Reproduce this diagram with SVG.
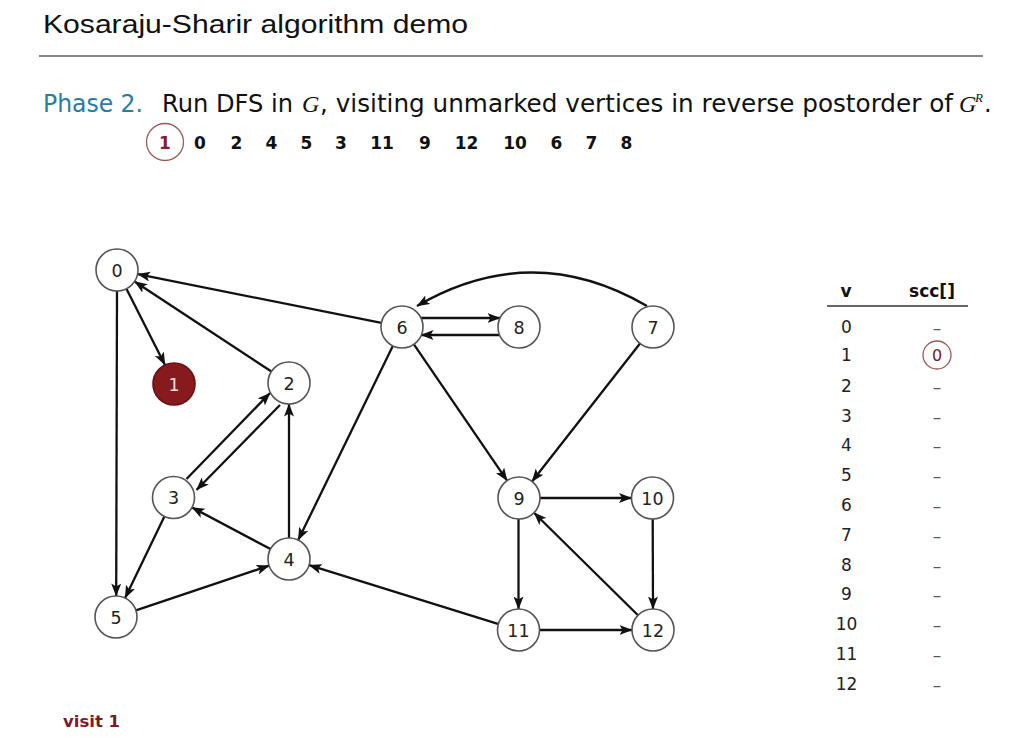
<svg xmlns="http://www.w3.org/2000/svg" width="1011" height="738" viewBox="0 0 1011 738">
<defs>
<marker id="ah" markerUnits="userSpaceOnUse" markerWidth="14" markerHeight="11" refX="12.5" refY="5" orient="auto">
<path d="M0,0 L13,5 L0,10 L3,5 z" fill="#111"/>
</marker>
<style>
.e{stroke:#111;stroke-width:2.3;fill:none;marker-end:url(#ah)}
.n circle{fill:#fff;stroke:#555;stroke-width:1.6}
.n text{font-family:"DejaVu Sans",sans-serif;font-size:17.5px;fill:#222;text-anchor:middle}
.t{font-family:"DejaVu Sans",sans-serif;fill:#111}
.ord{font-family:"DejaVu Sans",sans-serif;font-weight:bold;font-size:17px;fill:#111;text-anchor:middle}
.tv{font-family:"DejaVu Sans",sans-serif;font-size:17px;fill:#222;text-anchor:middle}
.td{font-family:"DejaVu Sans",sans-serif;font-size:17px;fill:#555;text-anchor:middle}
</style>
</defs>
<rect width="1011" height="738" fill="#fff"/>

<g id="header">
<text x="43" y="33" font-family="Liberation Sans, sans-serif" font-size="26" fill="#111" textLength="425" lengthAdjust="spacingAndGlyphs">Kosaraju-Sharir algorithm demo</text>
<line x1="39" y1="56" x2="983" y2="56" stroke="#888" stroke-width="2"/>
<text x="43" y="112" class="t" font-size="24" style="fill:#2a7ca0" textLength="100" lengthAdjust="spacingAndGlyphs">Phase 2.</text>
<text x="162" y="112" class="t" font-size="24" textLength="131" lengthAdjust="spacingAndGlyphs">Run DFS in</text>
<text x="302" y="112" font-family="Liberation Serif, serif" font-style="italic" font-size="24" fill="#111">G</text>
<text x="320" y="112" class="t" font-size="24" textLength="633" lengthAdjust="spacingAndGlyphs">, visiting unmarked vertices in reverse postorder of</text>
<text x="959" y="112" font-family="Liberation Serif, serif" font-style="italic" font-size="24" fill="#111">G</text>
<text x="975" y="102" font-family="Liberation Serif, serif" font-style="italic" font-size="13" fill="#111">R</text>
<text x="984" y="112" class="t" font-size="24">.</text>
</g>

<g id="order">
<circle cx="165" cy="142" r="18.5" fill="none" stroke="#9a5a5a" stroke-width="1.3"/>
<text x="165" y="149" class="ord" style="fill:#8b1a2b">1</text>
<text x="200" y="149" class="ord">0</text>
<text x="236.5" y="149" class="ord">2</text>
<text x="271.5" y="149" class="ord">4</text>
<text x="306.5" y="149" class="ord">5</text>
<text x="341" y="149" class="ord">3</text>
<text x="382" y="149" class="ord">11</text>
<text x="425" y="149" class="ord">9</text>
<text x="466.5" y="149" class="ord">12</text>
<text x="515" y="149" class="ord">10</text>
<text x="556.5" y="149" class="ord">6</text>
<text x="591.5" y="149" class="ord">7</text>
<text x="626.5" y="149" class="ord">8</text>
</g>

<g id="edges">
<line class="e" x1="126.4" y1="288.8" x2="165" y2="365"/>
<line class="e" x1="117" y1="291" x2="116.2" y2="596"/>
<line class="e" x1="271.4" y1="371.5" x2="134.6" y2="281.5"/>
<line class="e" x1="381.4" y1="322.9" x2="137.6" y2="274.1"/>
<line class="e" x1="186.5" y1="479" x2="270" y2="393"/>
<line class="e" x1="280" y1="405" x2="196.5" y2="490"/>
<line class="e" x1="289" y1="538" x2="289" y2="404"/>
<line class="e" x1="270.5" y1="549.1" x2="192" y2="507.4"/>
<line class="e" x1="164.4" y1="516.4" x2="125.1" y2="598.1"/>
<line class="e" x1="135.9" y1="610.3" x2="269.1" y2="565.7"/>
<line class="e" x1="392.8" y1="345.9" x2="298.2" y2="540.1"/>
<line class="e" x1="497.9" y1="623.8" x2="309.1" y2="565.2"/>
<line class="e" x1="421" y1="318" x2="500" y2="318"/>
<line class="e" x1="500" y1="335" x2="421" y2="335"/>
<line class="e" x1="413.9" y1="344.3" x2="507.1" y2="480.7"/>
<line class="e" x1="640" y1="343.5" x2="532" y2="481.5"/>
<path class="e" d="M647,306 Q532,239 417,306"/>
<line class="e" x1="540" y1="498" x2="631.5" y2="498"/>
<line class="e" x1="518.5" y1="519" x2="518.5" y2="609"/>
<line class="e" x1="652.7" y1="519" x2="653" y2="609"/>
<line class="e" x1="539.5" y1="630" x2="632" y2="630"/>
<line class="e" x1="638" y1="615.3" x2="534" y2="512.7"/>
</g>

<g id="node0" class="n"><circle cx="117" cy="270" r="21"/><text x="117" y="276.5">0</text></g>
<g id="node1" class="n"><circle cx="174" cy="384" r="21" style="fill:#861a1d;stroke:#6a1014"/><text x="174" y="390.5" style="fill:#f3dede">1</text></g>
<g id="node2" class="n"><circle cx="289" cy="383" r="21"/><text x="289" y="389.5">2</text></g>
<g id="node3" class="n"><circle cx="173.5" cy="497.5" r="21"/><text x="173.5" y="504">3</text></g>
<g id="node4" class="n"><circle cx="289" cy="559" r="21"/><text x="289" y="565.5">4</text></g>
<g id="node5" class="n"><circle cx="116" cy="617" r="21"/><text x="116" y="623.5">5</text></g>
<g id="node6" class="n"><circle cx="402" cy="327" r="21"/><text x="402" y="333.5">6</text></g>
<g id="node7" class="n"><circle cx="653" cy="327" r="21"/><text x="653" y="333.5">7</text></g>
<g id="node8" class="n"><circle cx="519" cy="327" r="21"/><text x="519" y="333.5">8</text></g>
<g id="node9" class="n"><circle cx="519" cy="498" r="21"/><text x="519" y="504.5">9</text></g>
<g id="node10" class="n"><circle cx="652.5" cy="498" r="21"/><text x="652.5" y="504.5">10</text></g>
<g id="node11" class="n"><circle cx="518.5" cy="630" r="21"/><text x="518.5" y="636.5">11</text></g>
<g id="node12" class="n"><circle cx="653" cy="630" r="21"/><text x="653" y="636.5">12</text></g>

<g id="table">
<text x="846" y="297" class="tv" style="font-weight:bold;fill:#111">v</text>
<text x="932" y="297" class="tv" style="font-weight:bold;fill:#111">scc[]</text>
<line x1="827" y1="306" x2="968" y2="306" stroke="#666" stroke-width="2"/>
<text x="846.5" y="332.5" class="tv">0</text>
<text x="846.5" y="361" class="tv">1</text>
<text x="846.5" y="392" class="tv">2</text>
<text x="846.5" y="421.5" class="tv">3</text>
<text x="846.5" y="451" class="tv">4</text>
<text x="846.5" y="481" class="tv">5</text>
<text x="846.5" y="511" class="tv">6</text>
<text x="846.5" y="541" class="tv">7</text>
<text x="846.5" y="570.5" class="tv">8</text>
<text x="846.5" y="600" class="tv">9</text>
<text x="846.5" y="630" class="tv">10</text>
<text x="846.5" y="659.5" class="tv">11</text>
<text x="846.5" y="689.5" class="tv">12</text>
<text x="937" y="334" class="td">–</text>
<circle cx="937" cy="355" r="14" fill="none" stroke="#9a5a5a" stroke-width="1.3"/>
<text x="937" y="361" class="tv" style="fill:#7a1a22;font-size:16px">0</text>
<text x="937" y="393" class="td">–</text>
<text x="937" y="422.5" class="td">–</text>
<text x="937" y="452" class="td">–</text>
<text x="937" y="482" class="td">–</text>
<text x="937" y="512" class="td">–</text>
<text x="937" y="542" class="td">–</text>
<text x="937" y="571.5" class="td">–</text>
<text x="937" y="601" class="td">–</text>
<text x="937" y="631" class="td">–</text>
<text x="937" y="660.5" class="td">–</text>
<text x="937" y="690.5" class="td">–</text>
</g>

<text id="caption" x="63" y="727" font-family="DejaVu Sans, sans-serif" font-weight="bold" font-size="16.5" fill="#7a1a2a">visit 1</text>
</svg>
